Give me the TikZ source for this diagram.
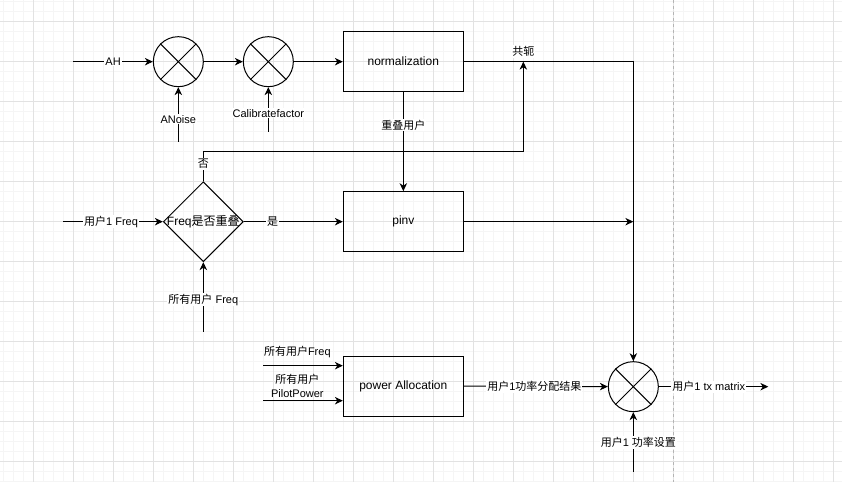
\documentclass[tikz,border=0pt]{standalone}
\usepackage{fontspec}
\setmainfont{Liberation Sans}
\newfontfamily\cjkfont{Noto Sans CJK SC}
\newcommand\zhtext[1]{{\cjkfont #1}}
\usetikzlibrary{shapes.geometric,arrows.meta}
\definecolor{gridmajor}{HTML}{E2E2E2}
\definecolor{gridminor}{HTML}{F5F5F5}
\definecolor{pageline}{HTML}{B4B4B4}
\begin{document}
\begin{tikzpicture}[x=1pt,y=-1pt,line width=1pt,
  font=\fontsize{11}{14}\selectfont,
  box/.style={draw, rectangle, minimum width=120pt, minimum height=60pt, inner sep=0pt, font=\fontsize{12}{14}\selectfont},
  mult/.style={draw, circle, minimum size=50pt, inner sep=0pt},
  dec/.style={draw, diamond, minimum width=80pt, minimum height=80pt, inner sep=0pt},
  lab/.style={fill=white, inner sep=1pt},
  arr/.style={-{Stealth[length=8pt,width=7.5pt,inset=2.5pt]}},
  gmin/.style={draw=gridminor, line width=0.8pt},
  gmaj/.style={draw=gridmajor, line width=0.8pt},
]
\useasboundingbox[fill=white] (0,0) rectangle (842,482);
% grid
\foreach \i in {0,...,83} { \draw[gmin] ({3.33+10*\i},0) -- ({3.33+10*\i},482); }
\foreach \j in {0,...,48} { \draw[gmin] (0,{1.67+10*\j}) -- (842,{1.67+10*\j}); }
\foreach \i in {0,...,20} { \draw[gmaj] ({33.33+40*\i},0) -- ({33.33+40*\i},482); }
\foreach \j in {0,...,11} { \draw[gmaj] (0,{21.67+40*\j}) -- (842,{21.67+40*\j}); }
\draw[pageline, line width=0.8pt, dash pattern=on 3pt off 3pt] (673.33,0) -- (673.33,482);

% nodes
\node[mult] (m1) at (178.33,61.67) {};
\node[mult] (m2) at (268.33,61.67) {};
\node[box] (norm) at (403.33,61.67) {normalization};
\node[box] (pinv) at (403.33,221.67) {pinv};
\node[box] (pa) at (403.33,386) {power Allocation};
\node[dec] (dec) at (203.33,221.67) {};
\node[font=\fontsize{12}{14}\selectfont, inner sep=0pt] (dect) at (dec) {Freq\zhtext{是否重叠}};
\node[mult] (m3) at (633.33,386.67) {};
\foreach \m in {m1,m2,m3} {
  \draw (\m.north east) -- (\m.south west) (\m.north west) -- (\m.south east);
}

% coordinates
\coordinate (ahs) at (73.33,61.67);
\coordinate (ans) at (178.33,141.67);
\coordinate (cfs) at (268.33,131.67);
\coordinate (jr) at (633.33,61.67);
\coordinate (pj) at (633.33,221.67);
\coordinate (nA) at (203.33,151.67);
\coordinate (nB) at (523.33,151.67);
\coordinate (nC) at (523.33,61.67);
\coordinate (uf) at (63.33,221.67);
\coordinate (af) at (203.33,331.67);
\coordinate (pf) at (263.33,365.67);
\coordinate (pp) at (263.33,400.67);
\coordinate (out) at (768.33,386.67);
\coordinate (ps) at (633.33,471.67);

% connectors
\draw[arr] (ahs) -- node[lab]{AH} (m1);
\draw[arr] (ans) -- node[lab,pos=0.41]{ANoise} (m1);
\draw[arr] (m1) -- (m2);
\draw[arr] (cfs) -- node[lab,pos=0.41]{Calibratefactor} (m2);
\draw[arr] (m2) -- (norm);
\draw[arr] (norm.east) -- (jr) -- (m3.north);
\draw[arr] (norm) -- node[lab,pos=0.33]{\zhtext{重叠用户}} (pinv);
\draw[arr] (dec.north) -- node[lab,pos=0.59]{\zhtext{否}} (nA) -- (nB) -- (nC);
\node[lab] (gj) at (523.33,51.5) {\zhtext{共轭}};
\draw[arr] (pinv) -- (pj);
\draw[arr] (uf) -- node[lab,pos=0.48]{\zhtext{用户}1 Freq} (dec.west);
\draw[arr] (dec.east) -- node[lab,pos=0.29]{\zhtext{是}} (pinv.west);
\draw[arr] (af) -- node[lab,pos=0.46]{\zhtext{所有用户} Freq} (dec.south);
\draw[arr] (pf) -- (pf -| pa.west);
\node (pfl) at (297.33,351.5) {\zhtext{所有用户}Freq};
\draw[arr] (pp) -- (pp -| pa.west);
\node[align=center, inner sep=0pt] (ppl) at (297.33,386.3) {\zhtext{所有用户}\\PilotPower};
\draw[arr] (pa) -- node[lab,pos=0.49]{\zhtext{用户}1\zhtext{功率分配结果}} (m3);
\draw[arr] (m3) -- node[lab,pos=0.456]{\zhtext{用户}1 tx matrix} (out);
\draw[arr] (ps) -- node[lab,pos=0.49,xshift=5pt]{\zhtext{用户}1 \zhtext{功率设置}} (m3.south);
\end{tikzpicture}
\end{document}
